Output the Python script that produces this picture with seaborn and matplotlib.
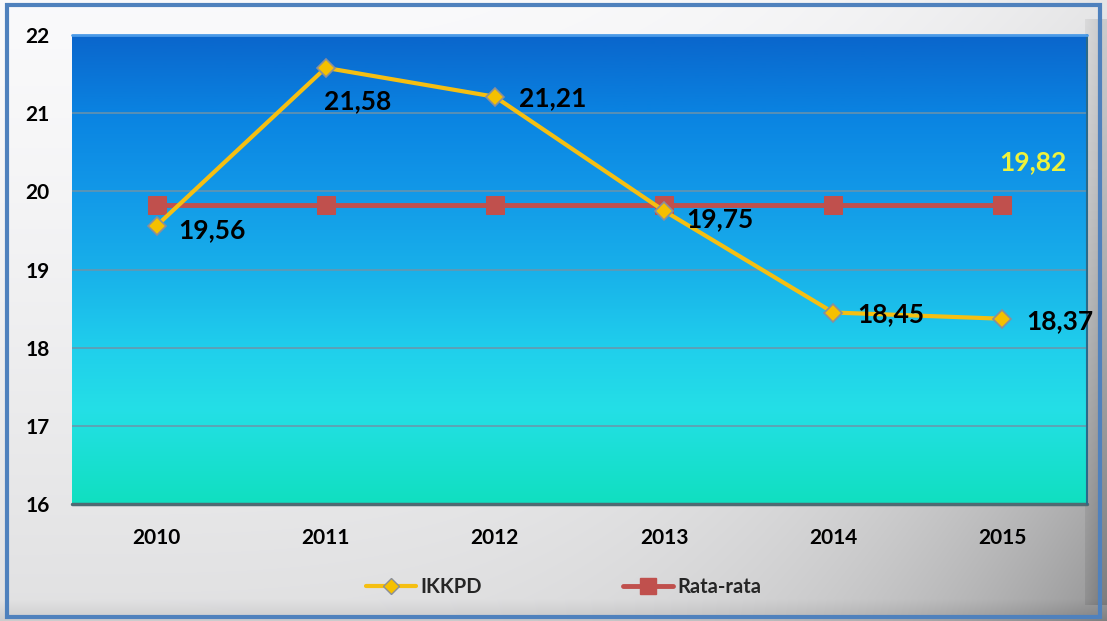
import numpy as np
import pandas as pd
import matplotlib
matplotlib.use("Agg")
import matplotlib.pyplot as plt
from matplotlib.colors import LinearSegmentedColormap
from matplotlib.patches import Rectangle
from matplotlib.lines import Line2D
import seaborn as sns

# Data
years = ["2010", "2011", "2012", "2013", "2014", "2015"]
ikkpd = [19.56, 21.58, 21.21, 19.75, 18.45, 18.37]
rata_rata = [19.82, 19.82, 19.82, 19.82, 19.82, 19.82]
ikkpd_labels = ["19,56", "21,58", "21,21", "19,75", "18,45", "18,37"]
rata_label = "19,82"
y_ticks = [16, 17, 18, 19, 20, 21, 22]

sns.set_theme(style="white")
plt.rcParams["font.family"] = ["Lato", "DejaVu Sans"]
plt.rcParams["font.weight"] = "bold"

fig = plt.figure(figsize=(11.07, 6.21), dpi=100)

# Framed panel background: white-to-grey shading that darkens toward the
# lower right, a bevelled right edge and a blue border
bg = fig.add_axes([0, 0, 1, 1], zorder=-10)
bg.set_axis_off()
h, w = 621, 1107
yy = np.linspace(0, 1, h)[:, None]
xx = np.linspace(0, 1, w)[None, :]
shade = (0.985 - 0.10 * yy ** 1.3 - 0.08 * xx ** 4
         - 0.22 * (xx ** 4) * (yy ** 1.2))
bevel = (xx > 0.981) & (yy > 0.03) & (yy < 0.975)
shade = np.where(bevel, shade - 0.05 - 0.05 * np.clip((xx - 0.981) / 0.013, 0, 1),
                 shade)
shade = np.where(yy > 0.965, shade - 0.08 * (yy - 0.965) / 0.035, shade)
shade = np.clip(shade, 0, 1)
img = np.dstack([shade * 0.995, shade * 0.995, shade])
bg.imshow(img, extent=[0, 1, 0, 1], aspect="auto", origin="upper")
bg.add_patch(Rectangle((0.006, 0.006), 0.988, 0.986, fill=False,
                       edgecolor="#4f81bd", linewidth=3, transform=bg.transAxes))
bg.set_xlim(0, 1)
bg.set_ylim(0, 1)

ax = fig.add_axes([0.065, 0.1884, 0.917, 0.7552])

# Plot area vertical gradient (deep blue at top to teal at bottom)
grad_cmap = LinearSegmentedColormap.from_list(
    "plotbg",
    [(0.0, "#0a66cc"), (0.17, "#0a84e2"), (0.33, "#1298e8"),
     (0.50, "#18b0ea"), (0.67, "#20cfec"), (0.80, "#24dfe6"),
     (1.0, "#10e0c0")])
gy = np.linspace(0, 1, 256)[:, None]
ax.imshow(gy, cmap=grad_cmap, extent=[-0.5, 5.5, 16, 22], aspect="auto",
          zorder=0, origin="upper")

df = pd.DataFrame({"Tahun": years, "IKKPD": ikkpd, "Rata-rata": rata_rata})

sns.lineplot(data=df, x="Tahun", y="Rata-rata", ax=ax, color="#c0504d",
             linewidth=3.5, marker="s", markersize=13, markeredgecolor="#c0504d",
             zorder=4, sort=False)
sns.lineplot(data=df, x="Tahun", y="IKKPD", ax=ax, color="#f5bf12",
             linewidth=3, marker="D", markersize=9, markerfacecolor="#f5c000",
             markeredgecolor="#8a8f99", markeredgewidth=1.2, zorder=5, sort=False)

ax.set_xlim(-0.5, 5.5)
ax.set_ylim(16, 22)
ax.set_yticks(y_ticks)
for yv in y_ticks[1:-1]:
    ax.axhline(yv, color="#6f93a8", linewidth=1.2, zorder=1, alpha=0.9)

ax.set_xlabel("")
ax.set_ylabel("")
for s in ax.spines.values():
    s.set_visible(False)
ax.tick_params(axis="both", length=0, labelsize=15, colors="black")
ax.tick_params(axis="x", pad=17)
ax.tick_params(axis="y", pad=16)
for lab in ax.get_xticklabels() + ax.get_yticklabels():
    lab.set_fontweight("bold")

# Data labels (offsets in data units relative to each point)
offsets = [(0.13, -0.05), (-0.01, -0.42), (0.14, -0.02),
           (0.13, -0.10), (0.14, -0.02), (0.14, -0.03)]
for i, (v, txt) in enumerate(zip(ikkpd, ikkpd_labels)):
    dx, dy = offsets[i]
    ax.text(i + dx, v + dy, txt, ha="left", va="center", fontsize=19,
            fontweight="bold", color="black", zorder=6)
ax.text(5.18, rata_rata[-1] + 0.55, rata_label, ha="center", va="center",
        fontsize=19, fontweight="bold", color="#eef23c", zorder=6)

# Subtle shadow along bottom and right of plot area, light bevel on top
ax.plot([-0.5, 5.5], [16.0, 16.0], color="#4f6a72", linewidth=2.5, zorder=3,
        clip_on=False)
ax.plot([5.5, 5.5], [16.0, 22.0], color="#2a6a8a", linewidth=1.5, zorder=3,
        clip_on=False)
ax.plot([-0.5, 5.5], [22.0, 22.0], color="#4a9ae8", linewidth=2, zorder=3,
        clip_on=False)

# Legend
if ax.get_legend() is not None:
    ax.get_legend().remove()
handles = [
    Line2D([0], [0], color="#f5bf12", linewidth=3, marker="D", markersize=8,
           markerfacecolor="#f5c000", markeredgecolor="#8a8f99"),
    Line2D([0], [0], color="#c0504d", linewidth=3.5, marker="s", markersize=12),
]
fig.legend(handles, ["IKKPD", "Rata-rata"], loc="center",
           bbox_to_anchor=(0.509, 0.055), ncol=2, frameon=False,
           handlelength=2.5, handletextpad=0.2,
           columnspacing=7.0, prop={"weight": "bold", "size": 14.5})

fig.savefig("out.png", dpi=100)
